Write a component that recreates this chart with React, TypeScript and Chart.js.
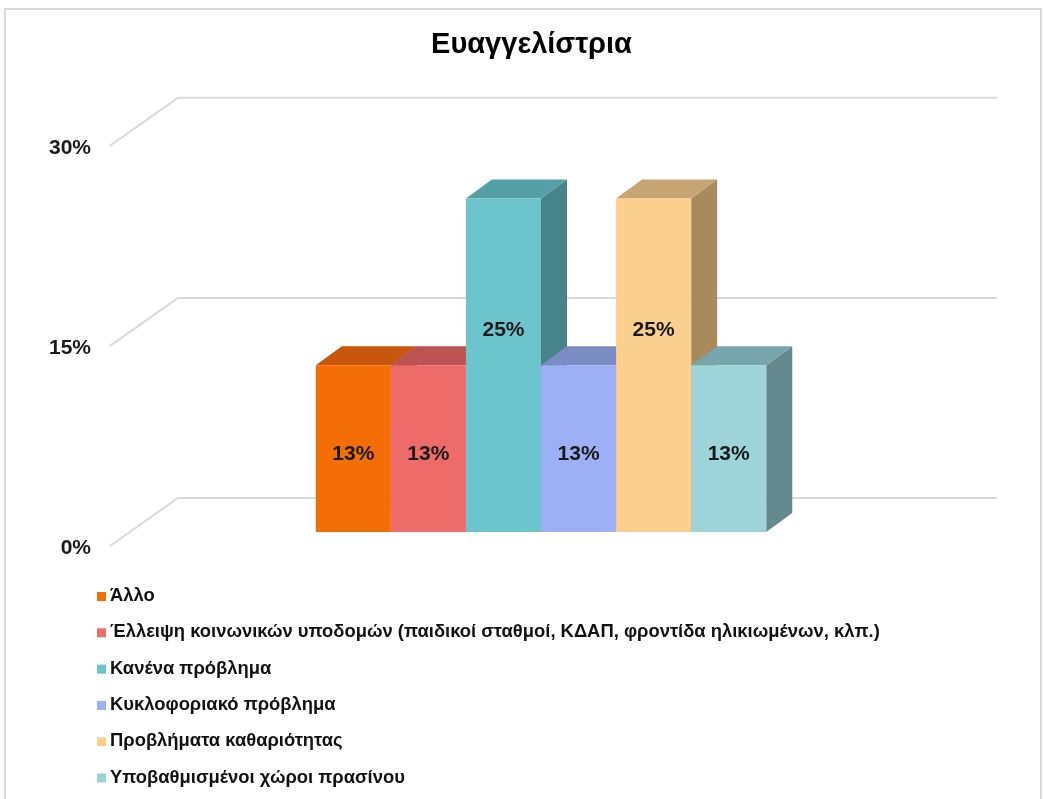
import React, { useEffect, useRef } from "react";
import { Chart, registerables } from "chart.js";

Chart.register(...registerables);

const chartTitle = "Ευαγγελίστρια";
const categories = [
  "Άλλο",
  "Έλλειψη κοινωνικών υποδομών (παιδικοί σταθμοί, ΚΔΑΠ, φροντίδα ηλικιωμένων, κλπ.)",
  "Κανένα πρόβλημα",
  "Κυκλοφοριακό πρόβλημα",
  "Προβλήματα καθαριότητας",
  "Υποβαθμισμένοι χώροι πρασίνου",
];
const values = [0.125, 0.125, 0.25, 0.125, 0.25, 0.125];
const yTickValues = [0, 0.15, 0.3];

const frontColors = ["#f46e08", "#ed6b69", "#6cc4cc", "#9db0f5", "#fbd08f", "#9dd4da"];
const topColors = ["#c8560c", "#bd5353", "#55a0a7", "#7b8bc4", "#c6a573", "#77a6ac"];
const sideColors = ["#a8480a", "#9e4545", "#47848a", "#65739f", "#a88a5c", "#64898f"];

const FONT = "'Liberation Sans', Arial, sans-serif";
const fmt = (v: number) => Math.round(v * 100) + "%";

// 3D geometry offsets (pixels)
const DEPTH = { dx: 26, dy: -19 };
const WALL = { dx: 48, dy: -34 };
const FRONT = { dx: -20, dy: 14 };

const threeDPlugin = {
  id: "threeD",
  beforeDraw(chart: any) {
    const ctx = chart.ctx;
    ctx.save();
    ctx.fillStyle = "#ffffff";
    ctx.fillRect(0, 0, chart.width, chart.height);
    ctx.strokeStyle = "#d9d9d9";
    ctx.lineWidth = 2;
    ctx.strokeRect(5, 9, 1036, 900);
    ctx.restore();
  },
  beforeDatasetsDraw(chart: any) {
    const ctx = chart.ctx;
    const area = chart.chartArea;
    const y = chart.scales.y;
    ctx.save();
    // gridlines: oblique side line + back wall line
    ctx.strokeStyle = "#d9d9d9";
    ctx.lineWidth = 2;
    y.ticks.forEach((t: any) => {
      const py = y.getPixelForValue(t.value);
      ctx.beginPath();
      ctx.moveTo(area.left + FRONT.dx, py + FRONT.dy);
      ctx.lineTo(area.left + WALL.dx, py + WALL.dy);
      ctx.lineTo(area.right + WALL.dx - 3, py + WALL.dy);
      ctx.stroke();
    });
    // tick labels on the front plane
    ctx.font = `bold 21px ${FONT}`;
    ctx.fillStyle = "#1a1a1a";
    ctx.textAlign = "right";
    ctx.textBaseline = "middle";
    y.ticks.forEach((t: any) => {
      const py = y.getPixelForValue(t.value);
      ctx.fillText(fmt(t.value), area.left - 39, py + 16);
    });
    // side and top faces of bars
    chart.data.datasets.forEach((ds: any, i: number) => {
      const meta = chart.getDatasetMeta(i);
      meta.data.forEach((bar: any) => {
        const { x, y: top, base, width } = bar.getProps(["x", "y", "base", "width"], true);
        const L = x - width / 2;
        const R = x + width / 2;
        const { dx, dy } = DEPTH;
        ctx.fillStyle = sideColors[i];
        ctx.beginPath();
        ctx.moveTo(R, top);
        ctx.lineTo(R + dx, top + dy);
        ctx.lineTo(R + dx, base + dy);
        ctx.lineTo(R, base);
        ctx.closePath();
        ctx.fill();
        ctx.fillStyle = topColors[i];
        ctx.beginPath();
        ctx.moveTo(L, top);
        ctx.lineTo(L + dx, top + dy);
        ctx.lineTo(R + dx, top + dy);
        ctx.lineTo(R, top);
        ctx.closePath();
        ctx.fill();
      });
    });
    ctx.restore();
  },
  afterDatasetsDraw(chart: any) {
    const ctx = chart.ctx;
    ctx.save();
    ctx.font = `bold 21px ${FONT}`;
    ctx.fillStyle = "#1a1a1a";
    ctx.textAlign = "center";
    ctx.textBaseline = "middle";
    chart.data.datasets.forEach((ds: any, i: number) => {
      const meta = chart.getDatasetMeta(i);
      meta.data.forEach((bar: any, j: number) => {
        const { x, y: top, base } = bar.getProps(["x", "y", "base"], true);
        const h = base - top;
        ctx.fillText(fmt(ds.data[j]), x, base - 0.7425 * h + 46);
      });
    });
    ctx.restore();
  },
  afterDraw(chart: any) {
    const ctx = chart.ctx;
    ctx.save();
    ctx.font = `bold 18.4px ${FONT}`;
    ctx.textAlign = "left";
    ctx.textBaseline = "middle";
    chart.data.datasets.forEach((ds: any, i: number) => {
      const ry = 596 + i * 36.3;
      ctx.fillStyle = frontColors[i];
      ctx.fillRect(97, ry - 4, 9, 9);
      ctx.fillStyle = "#111111";
      ctx.fillText(ds.label, 110, ry);
    });
    ctx.restore();
  },
};

export default function App() {
  const ref = useRef<HTMLCanvasElement | null>(null);
  useEffect(() => {
    const canvas = ref.current;
    if (!canvas) return;
    const chart = new Chart(canvas, {
      type: "bar",
      data: {
        labels: [""],
        datasets: categories.map((c, i) => ({
          label: c,
          data: [values[i]],
          backgroundColor: frontColors[i],
          borderWidth: 0,
          barPercentage: 1,
          categoryPercentage: 0.548,
        })),
      },
      options: {
        responsive: false,
        animation: false,
        layout: { padding: { left: 111, right: 92, top: 0, bottom: 267 } },
        plugins: {
          legend: { display: false },
          tooltip: { enabled: false },
          title: {
            display: true,
            text: chartTitle,
            color: "#000000",
            font: { family: FONT, size: 29, weight: "bold" },
            padding: { top: 28, bottom: 69 },
          },
        },
        scales: {
          x: { display: false },
          y: {
            min: 0,
            max: 0.3,
            afterBuildTicks: (scale: any) => {
              scale.ticks = yTickValues.map((v) => ({ value: v }));
            },
            afterFit: (scale: any) => {
              scale.width = 19;
            },
            grid: { display: false, drawTicks: false },
            border: { display: false },
            ticks: { display: false },
          },
        },
      },
      plugins: [threeDPlugin],
    });
    return () => chart.destroy();
  }, []);
  return (
    <div style={{ position: "fixed", left: 0, top: 0, width: 1044, height: 799, background: "#fff" }}>
      <canvas ref={ref} width={1044} height={799} style={{ display: "block" }} />
    </div>
  );
}
